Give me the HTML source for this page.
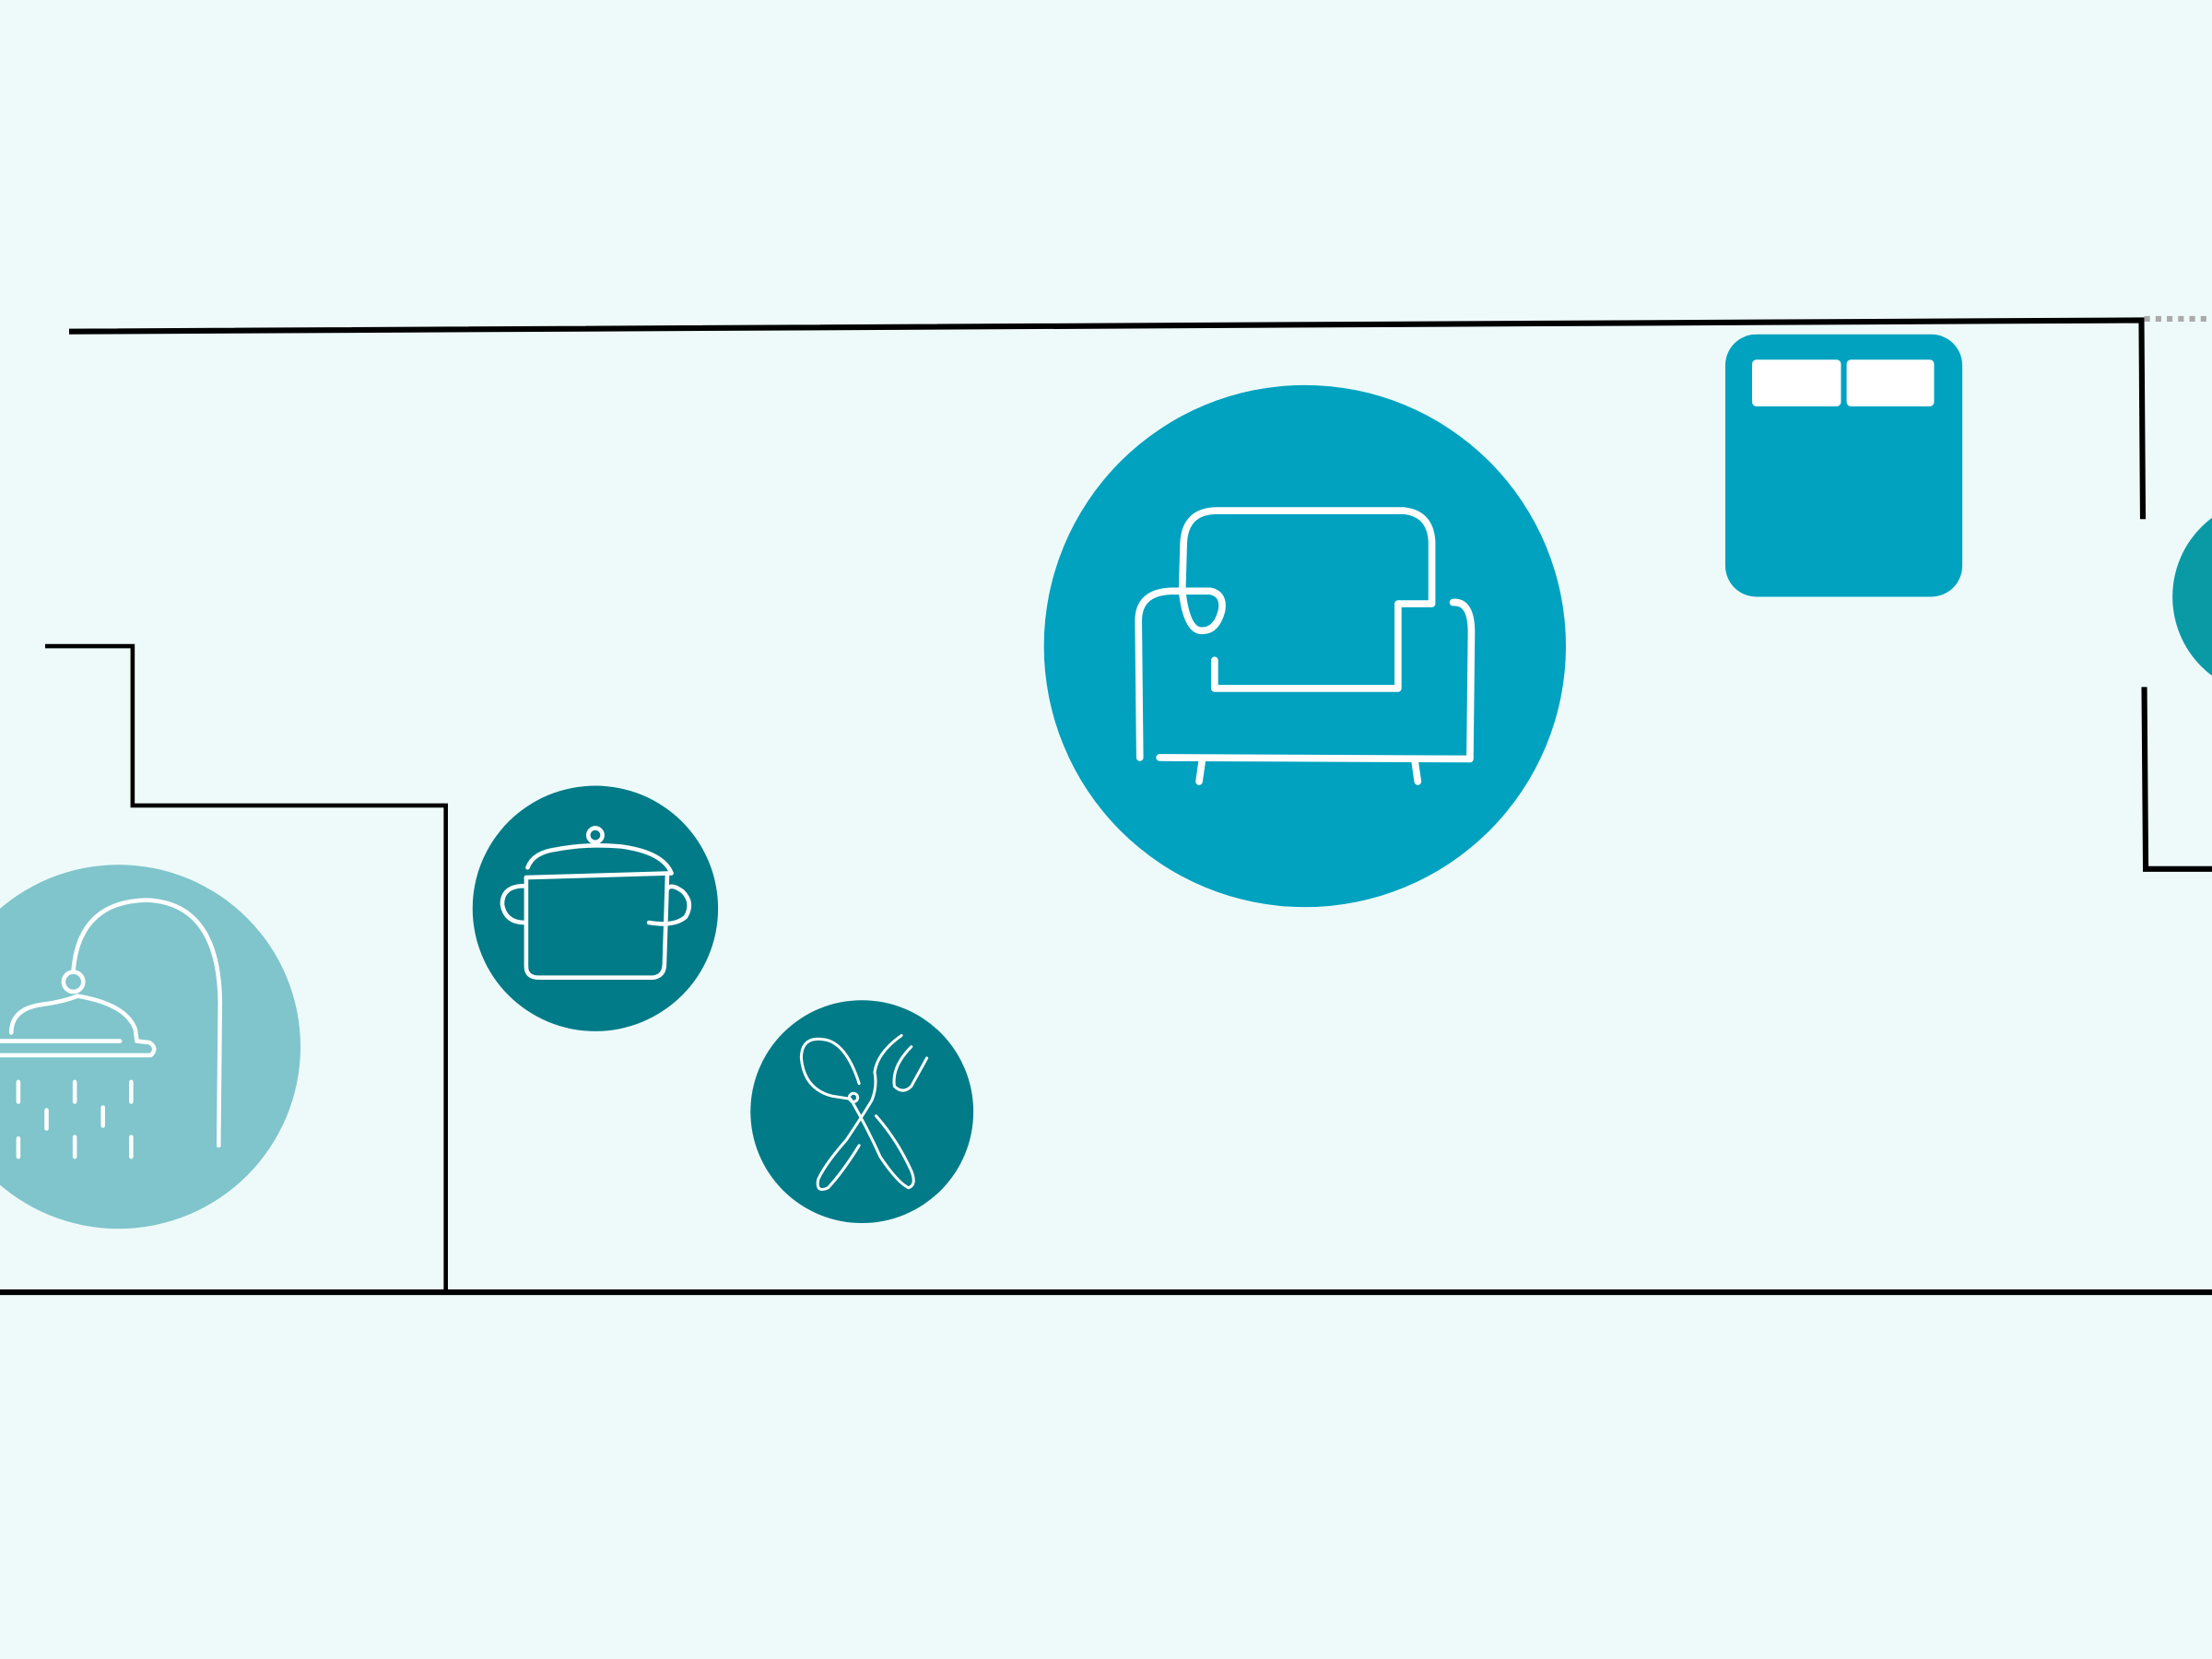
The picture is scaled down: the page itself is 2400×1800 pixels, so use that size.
<!DOCTYPE html>
<html><head><meta charset="utf-8"><style>
html,body{margin:0;padding:0;background:#eefafa;}
svg{display:block;}
</style></head><body>
<svg width="2400" height="1800" viewBox="0 0 1568 1176" xmlns="http://www.w3.org/2000/svg">
<rect width="1568" height="1176" fill="#eefafa"/>
<!-- walls -->
<path d="M49 235 L1518 227 L1519 368" fill="none" stroke="#000" stroke-width="4"/>
<line x1="1520" y1="226" x2="1568" y2="226" stroke="#aaa" stroke-width="4" stroke-dasharray="4 4"/>
<path d="M1520 487 L1521 616 L1568 616" fill="none" stroke="#000" stroke-width="4"/>
<path d="M32 458 L94 458 L94 571 L316 571 L316 916" fill="none" stroke="#000" stroke-width="3"/>
<line x1="0" y1="916" x2="1568" y2="916" stroke="#000" stroke-width="4"/>
<!-- right partial circle -->
<circle cx="1610" cy="423" r="70" fill="#0a9aa6"/>
<!-- bed -->
<rect x="1223" y="237" width="168" height="186" rx="22" fill="#00a2bf"/>
<rect x="1242" y="255" width="63" height="33" rx="3" fill="#fff"/>
<rect x="1309" y="255" width="62" height="33" rx="3" fill="#fff"/>
<!-- sofa circle -->
<circle cx="925" cy="458" r="185" fill="#00a2bf"/>
<g fill="none" stroke="#fff" stroke-width="5" stroke-linecap="round" stroke-linejoin="round">
<path d="M808 537 L807 440 Q807 420 830 419 L858 419 Q868 421 866 433 Q862 448 851 447 Q841 446 838 419"/>
<path d="M838 419 L839 385 Q840 362 863 362 L995 362 Q1014 364 1015 384 L1015 428 L991 428 L991 488 L861 488 L861 468"/>
<path d="M1030 427 Q1043 426 1043 448 L1042 538 L822 537"/>
<path d="M852 540 L850 554 M1003 540 L1005 554"/>
</g>
<!-- pot circle -->
<circle cx="422" cy="644" r="87" fill="#017b87"/>
<g fill="none" stroke="#fff" stroke-width="3" stroke-linecap="round" stroke-linejoin="round">
<circle cx="422" cy="592" r="5"/>
<path d="M374 615 Q378 604 395 602 Q415 598 440 600 Q470 604 476 619 L373 622"/>
<path d="M373 622 L373 685 Q373 693 382 693 L463 693 Q471 692 471 683 L473 620"/>
<path d="M372 628 Q356 628 356 641 Q358 654 372 654"/>
<path d="M473 630 Q476 626 484 632 Q492 640 486 650 Q478 657 460 654"/>
</g>
<!-- cutlery circle -->
<circle cx="611" cy="788" r="79" fill="#017b87"/>
<g fill="none" stroke="#fff" stroke-width="2" stroke-linecap="round" stroke-linejoin="round">
<path d="M609 768 Q600 740 585 737 Q568 734 568 750 Q570 772 590 777 L603 779 Q615 800 624 820 Q636 838 644 842 Q650 840 646 830 Q636 808 621 791"/>
<path d="M609 812 Q598 830 587 842 Q578 846 580 836 Q585 825 600 808 Q612 790 618 780 Q622 770 620 760 Q622 746 639 734"/>
<path d="M646 742 Q632 756 634 770 Q640 776 646 770 L657 750"/>
<circle cx="605" cy="778" r="3"/>
</g>
<!-- shower circle -->
<circle cx="84" cy="742" r="129" fill="#7fc5cb"/>
<g fill="none" stroke="#fff" stroke-width="3" stroke-linecap="round" stroke-linejoin="round">
<path d="M155 812 L156 710 Q155 640 104 638 Q56 639 52 688"/>
<circle cx="52" cy="696" r="7"/>
<path d="M8 732 Q8 715 30 712 Q45 710 55 706 Q90 712 96 730 L97 738 L106 739 Q112 743 107 748 L0 748"/>
<path d="M0 738 L85 738"/>
<path d="M13 767 L13 781 M53 767 L53 781 M93 767 L93 781 M33 787 L33 800 M73 785 L73 798 M13 807 L13 820 M53 806 L53 820 M93 806 L93 820"/>
</g>
</svg>
</body></html>
